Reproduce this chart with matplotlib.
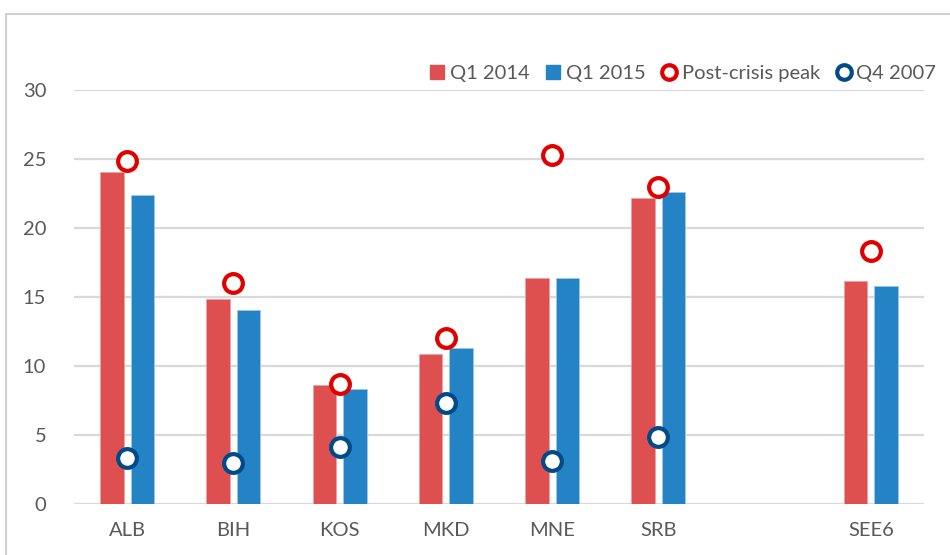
import numpy as np
import matplotlib
matplotlib.use("Agg")
import matplotlib.pyplot as plt
from matplotlib.lines import Line2D

categories = ["ALB", "BIH", "KOS", "MKD", "MNE", "SRB", "", "SEE6"]
q1_2014 = [24.05, 14.85, 8.6, 10.85, 16.4, 22.2, np.nan, 16.15]
q1_2015 = [22.4, 14.05, 8.3, 11.3, 16.4, 22.6, np.nan, 15.8]
post_crisis_peak = [24.85, 16.05, 8.7, 12.05, 25.3, 23.0, np.nan, 18.35]
q4_2007 = [3.3, 3.0, 4.1, 7.3, 3.1, 4.85, np.nan, np.nan]
yticks = [0, 5, 10, 15, 20, 25, 30]

red = "#DE5050"
blue = "#2383C4"
peak_col = "#E00000"
q4_col = "#004A8A"
txt = "#595959"
grid = "#D9D9D9"

plt.rcParams['font.family'] = ['Lato', 'DejaVu Sans']

fig = plt.figure(figsize=(9.5, 5.55), dpi=100)
ax = fig.add_axes([74/950, 51/555, 850/950, 414/555])

x = np.arange(len(categories))
w = 0.22
off = 0.144
ax.bar(x - off, q1_2014, width=w, color=red, edgecolor="#F0A0A0", linewidth=0.6, zorder=2)
ax.bar(x + off, q1_2015, width=w, color=blue, edgecolor="#9CC8E8", linewidth=0.6, zorder=2)
ax.plot(x, post_crisis_peak, linestyle="none", marker="o", markersize=13.5,
        markerfacecolor="white", markeredgecolor=peak_col, markeredgewidth=3, zorder=3)
ax.plot(x, q4_2007, linestyle="none", marker="o", markersize=13.5,
        markerfacecolor="white", markeredgecolor=q4_col, markeredgewidth=3, zorder=3)

ax.set_xlim(-0.5, len(categories) - 0.5)
ax.set_ylim(0, 30)
ax.set_yticks(yticks)
ax.set_xticks(x)
ax.set_xticklabels(categories)
ax.yaxis.grid(True, color=grid, linewidth=1.6, zorder=0)
ax.set_axisbelow(True)
for s in ax.spines.values():
    s.set_visible(False)
ax.axhline(0, color=grid, linewidth=2.2, zorder=1)
ax.tick_params(axis='both', length=0, labelsize=14.5, colors=txt)
ax.tick_params(axis='y', pad=20)
ax.tick_params(axis='x', pad=13)

handles = [
    Line2D([], [], linestyle="none", marker="s", markersize=10, color=red),
    Line2D([], [], linestyle="none", marker="s", markersize=10, color=blue),
    Line2D([], [], linestyle="none", marker="o", markersize=10.5, markerfacecolor="white",
           markeredgecolor=peak_col, markeredgewidth=3),
    Line2D([], [], linestyle="none", marker="o", markersize=10.5, markerfacecolor="white",
           markeredgecolor=q4_col, markeredgewidth=3),
]
labels = ["Q1 2014", "Q1 2015", "Post-crisis peak", "Q4 2007"]
fig.legend(handles, labels, loc="center right", bbox_to_anchor=(944/950, 1 - 73/555),
           ncol=4, frameon=False, fontsize=14.5, handletextpad=0.15, columnspacing=0.75,
           handlelength=0.9, labelcolor=txt, borderaxespad=0)

# outer chart border
fig.add_artist(Line2D([6/950, 6/950], [0, 1 - 14/555], color="#D0D0D0", linewidth=1.5,
                      transform=fig.transFigure))
fig.add_artist(Line2D([6/950, 1], [1 - 14/555, 1 - 14/555], color="#D0D0D0", linewidth=1.5,
                      transform=fig.transFigure))

fig.savefig("out.png", dpi=100, facecolor="white")
